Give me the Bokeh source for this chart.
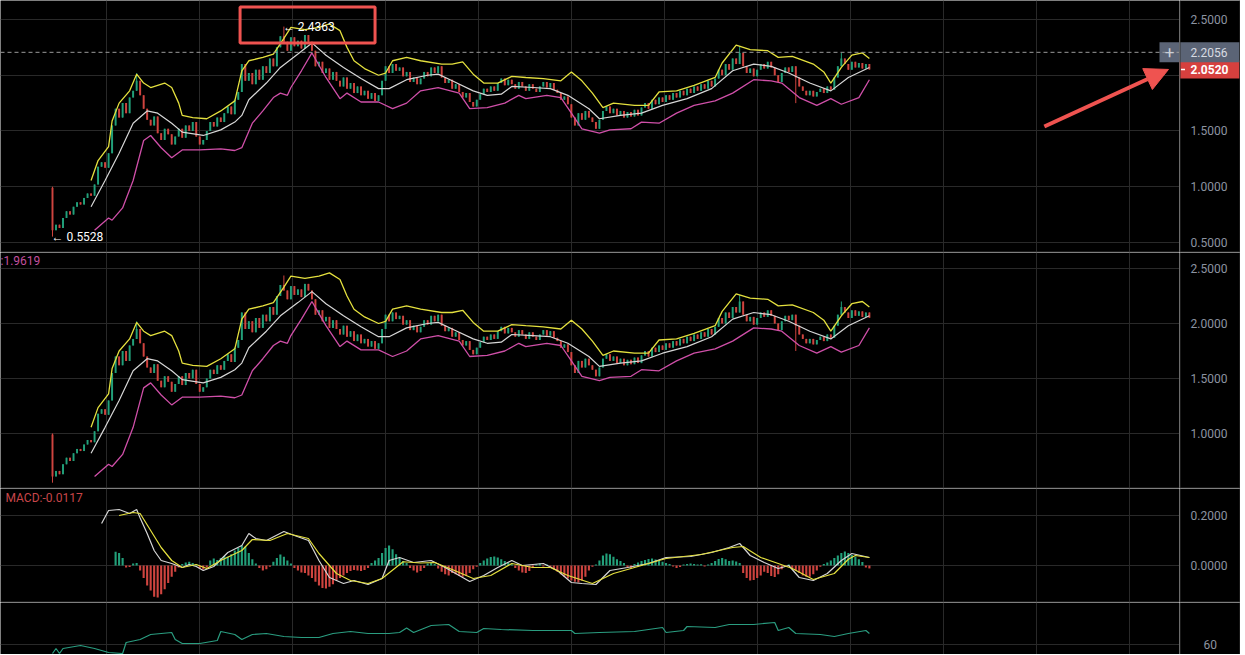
from bokeh.plotting import figure
from bokeh.models import (Range1d, FixedTicker, Span, Label, BoxAnnotation, Arrow,
                          NormalHead, ColumnDataSource)
from bokeh.layouts import column, row
from bokeh.embed import file_html
from bokeh.resources import INLINE
from bokeh.core.properties import value

# ---------------- data ----------------
first_open = 0.99
closes = [
    0.61, 0.66, 0.63, 0.72, 0.78, 0.75, 0.82, 0.86, 0.84, 0.90,
    0.94, 0.92, 1.02, 1.18, 1.22, 1.17, 1.30, 1.55, 1.70, 1.62,
    1.75, 1.66, 1.80, 1.86, 1.95, 1.82, 1.70, 1.60, 1.55, 1.63,
    1.48, 1.42, 1.52, 1.47, 1.38, 1.45, 1.52, 1.44, 1.55, 1.50,
    1.58, 1.45, 1.38, 1.42, 1.50, 1.58, 1.54, 1.62, 1.58, 1.66,
    1.72, 1.65, 1.78, 1.85, 2.10, 1.95, 2.02, 1.92, 2.05, 1.96,
    2.08, 2.02, 2.15, 2.08, 2.25, 2.35, 2.30, 2.22, 2.34, 2.26,
    2.31, 2.24, 2.36, 2.30, 2.22, 2.08, 2.12, 2.02, 2.06, 1.96,
    2.03, 1.95, 1.90, 1.98, 1.88, 1.93, 1.84, 1.90, 1.82, 1.86,
    1.79, 1.84, 1.77, 1.82, 1.95, 2.08, 2.02, 2.10, 2.04, 2.07,
    1.99, 2.03, 1.94, 1.98, 1.92, 1.97, 2.03, 1.99, 2.07, 2.02,
    2.08, 1.98, 1.93, 1.96, 1.88, 1.92, 1.85, 1.80, 1.84, 1.76,
    1.72, 1.78, 1.83, 1.88, 1.85, 1.90, 1.86, 1.93, 1.97, 1.91,
    1.96, 1.92, 1.88, 1.94, 1.90, 1.86, 1.92, 1.88, 1.85, 1.90,
    1.94, 1.89, 1.93, 1.87, 1.84, 1.78, 1.81, 1.74, 1.62, 1.55,
    1.66, 1.60, 1.68, 1.62, 1.58, 1.52, 1.60, 1.68, 1.72, 1.66,
    1.70, 1.64, 1.68, 1.62, 1.67, 1.63, 1.69, 1.64, 1.71, 1.75,
    1.70, 1.78, 1.74, 1.80, 1.76, 1.82, 1.78, 1.84, 1.80, 1.86,
    1.82, 1.88, 1.84, 1.90, 1.86, 1.92, 1.88, 1.95, 1.90, 1.97,
    2.05, 2.00, 2.10, 2.05, 2.15, 2.10, 2.20, 2.08, 2.02, 2.06,
    1.99, 2.05, 2.10, 2.06, 2.12, 2.07, 2.00, 1.94, 2.02, 2.07,
    2.03, 2.08, 1.98, 1.90, 1.86, 1.82, 1.86, 1.81, 1.85, 1.88,
    1.84, 1.90, 1.87, 1.98, 2.08, 2.15, 2.10, 2.05, 2.12, 2.07,
    2.11, 2.06, 2.10, 2.052,
]
high_marks = {0: 1.00, 24: 2.02, 66: 2.4363, 196: 2.26, 225: 2.20}
low_marks = {0: 0.5528, 212: 1.75}

# Bollinger bands (upper / middle / lower), sampled at candle indices
ub_idx = [11, 13, 16, 17, 19, 22, 24, 26, 28, 32, 34, 36, 37, 40, 44, 48, 52, 54, 56, 60,
          63, 66, 68, 72, 76, 79, 82, 84, 86, 89, 93, 95, 97, 101, 105, 111, 114, 117, 120, 123,
          127, 131, 135, 140, 145, 148, 151, 154, 157, 160, 166, 170, 173, 178, 183, 189, 191, 195, 199, 204,
          207, 211, 217, 220, 222, 225, 228, 231, 233]
ub_val = [1.056, 1.235, 1.36, 1.59, 1.75, 1.86, 2.01, 1.93, 1.89, 1.93, 1.89, 1.75, 1.64, 1.62, 1.61, 1.68, 1.77, 2.04, 2.13, 2.16,
          2.19, 2.33, 2.43, 2.41, 2.43, 2.46, 2.40, 2.25, 2.13, 2.06, 2.00, 2.02, 2.13, 2.16, 2.13, 2.10, 2.10, 2.12, 2.01, 1.93,
          1.93, 1.99, 1.98, 1.97, 1.95, 2.03, 1.95, 1.84, 1.71, 1.75, 1.73, 1.73, 1.85, 1.86, 1.91, 1.98, 2.11, 2.27, 2.23, 2.22,
          2.16, 2.17, 2.10, 2.03, 1.93, 2.07, 2.18, 2.20, 2.15]
mb_idx = [11, 15, 19, 23, 27, 30, 34, 37, 43, 48, 52, 54, 56, 61, 65, 70, 74, 78, 83, 88,
          93, 96, 101, 107, 110, 114, 120, 124, 128, 131, 137, 142, 147, 153, 156, 162, 168, 174, 181, 188,
          194, 200, 205, 210, 216, 222, 227, 233]
mb_val = [0.82, 1.056, 1.30, 1.57, 1.68, 1.66, 1.57, 1.49, 1.46, 1.51, 1.58, 1.64, 1.78, 1.93, 2.07, 2.19, 2.29, 2.18, 2.07, 1.97,
          1.88, 1.88, 1.96, 2.00, 2.01, 1.95, 1.86, 1.82, 1.83, 1.90, 1.89, 1.88, 1.82, 1.70, 1.61, 1.64, 1.66, 1.73, 1.79, 1.88,
          2.04, 2.10, 2.08, 2.02, 1.93, 1.86, 1.98, 2.07]
lb_idx = [12, 16, 17, 20, 23, 26, 28, 31, 34, 37, 42, 48, 52, 54, 57, 60, 63, 65, 67, 68,
          71, 74, 76, 78, 82, 84, 88, 93, 97, 101, 105, 110, 116, 119, 124, 129, 133, 135, 141, 145,
          148, 151, 156, 159, 165, 168, 173, 178, 183, 189, 194, 200, 205, 208, 213, 218, 222, 225, 230, 233]
lb_val = [0.61, 0.72, 0.70, 0.81, 1.056, 1.415, 1.46, 1.35, 1.26, 1.33, 1.33, 1.34, 1.325, 1.35, 1.57, 1.68, 1.80, 1.84, 1.82, 1.89,
          2.04, 2.20, 2.09, 1.98, 1.79, 1.84, 1.76, 1.76, 1.70, 1.75, 1.86, 1.89, 1.84, 1.70, 1.71, 1.75, 1.82, 1.79, 1.82, 1.80,
          1.66, 1.52, 1.48, 1.51, 1.52, 1.58, 1.57, 1.66, 1.73, 1.77, 1.84, 1.96, 1.95, 1.93, 1.80, 1.73, 1.79, 1.74, 1.80, 1.96]

# MACD histogram from candle 18 onwards
hist_start = 18
hist = [
    0.055, 0.05, 0.03, -0.008, -0.006, 0.008, 0.01, -0.02, -0.05, -0.08,
    -0.10, -0.125, -0.128, -0.115, -0.095, -0.07, -0.045, -0.025, -0.008, 0.006,
    0.012, 0.015, 0.01, 0.005, -0.012, -0.016, -0.008, 0.02, 0.028, 0.022,
    0.03, 0.038, 0.035, 0.045, 0.06, 0.07, 0.08, 0.075, 0.05, 0.025,
    0.008, -0.01, -0.02, -0.015, -0.005, 0.015, 0.03, 0.044, 0.035, 0.02,
    0.008, -0.01, -0.02, -0.028, -0.03, -0.04, -0.05, -0.065, -0.08, -0.09,
    -0.092, -0.085, -0.075, -0.06, -0.05, -0.04, -0.03, -0.022, -0.018, -0.02,
    -0.022, -0.018, -0.01, 0.01, 0.02, 0.03, 0.05, 0.07, 0.08, 0.065,
    0.045, 0.03, 0.018, 0.01, -0.01, -0.02, -0.028, -0.022, -0.01, 0.008,
    0.01, 0.006, -0.012, -0.025, -0.035, -0.04, -0.03, -0.035, -0.042, -0.045,
    -0.04, -0.03, -0.015, -0.005, 0.01, 0.02, 0.028, 0.034, 0.036, 0.032,
    0.025, 0.018, 0.012, 0.005, -0.01, -0.02, -0.028, -0.03, -0.022, -0.01,
    0.005, 0.008, -0.004, 0.004, -0.008, -0.015, -0.025, -0.035, -0.045, -0.052,
    -0.06, -0.065, -0.068, -0.06, -0.045, -0.02, -0.005, 0.004, 0.02, 0.04,
    0.048, 0.045, 0.035, 0.025, 0.018, 0.01, -0.006, -0.01, 0.006, 0.012,
    0.018, 0.022, 0.026, 0.028, 0.024, 0.02, 0.015, 0.01, 0.006, -0.004,
    -0.01, -0.006, 0.004, 0.006, 0.008, 0.006, 0.004, 0.005, -0.004, 0.004,
    0.01, 0.018, 0.026, 0.03, 0.025, 0.018, 0.02, 0.016, 0.01, -0.03,
    -0.05, -0.06, -0.058, -0.05, -0.04, -0.025, -0.03, -0.042, -0.046, -0.035,
    -0.015, -0.005, 0.004, -0.01, -0.02, -0.03, -0.04, -0.045, -0.045, -0.035,
    -0.02, -0.005, 0.006, 0.012, 0.02, 0.03, 0.04, 0.05, 0.056, 0.05,
    0.042, 0.035, 0.025, 0.014, -0.008, -0.0117,
]
dif_idx = [14, 16, 19, 22, 24, 25, 27, 29, 31, 34, 37, 39, 41, 43, 46, 50, 54, 56, 58, 61,
           66, 69, 73, 76, 79, 83, 86, 90, 94, 96, 99, 103, 108, 112, 116, 119, 123, 127, 131, 134,
           140, 144, 148, 151, 155, 159, 164, 170, 175, 182, 188, 193, 196, 199, 203, 207, 210, 213, 217, 221,
           225, 228, 233]
dif_val = [0.168, 0.22, 0.224, 0.208, 0.224, 0.19, 0.128, 0.06, 0.02, 0.008, -0.008, 0.004, -0.004, -0.02, -0.004, 0.052, 0.08, 0.128, 0.108, 0.10,
           0.136, 0.12, 0.10, 0.02, -0.048, -0.072, -0.06, -0.076, -0.052, 0.02, 0.032, 0.012, 0.02, -0.008, -0.04, -0.064, -0.04, -0.008, 0.02, 0.0,
           0.008, -0.02, -0.068, -0.072, -0.076, -0.02, -0.008, 0.008, 0.032, 0.036, 0.052, 0.072, 0.088, 0.04, 0.012, -0.012, 0.0, -0.048, -0.06, -0.032,
           0.02, 0.048, 0.032]
dea_idx = [19, 23, 25, 28, 31, 34, 37, 41, 44, 48, 54, 57, 62, 67, 73, 76, 81, 85, 90, 94,
           100, 105, 109, 114, 120, 125, 131, 137, 142, 147, 154, 160, 168, 175, 185, 194, 197, 202, 207, 211,
           217, 223, 227, 229, 233]
dea_val = [0.2, 0.212, 0.208, 0.14, 0.072, 0.02, -0.008, 0.004, -0.012, 0.02, 0.06, 0.104, 0.1, 0.128, 0.108, 0.048, -0.032, -0.06, -0.072, -0.052,
           0.015, 0.01, 0.012, -0.016, -0.052, -0.04, 0.008, -0.008, -0.008, -0.04, -0.072, -0.032, 0.0, 0.028, 0.044, 0.072, 0.076, 0.032, 0.008, -0.012,
           -0.056, -0.032, 0.025, 0.04, 0.032]
rsi_idx = [0, 1, 2, 3, 8, 12, 16, 20, 21, 25, 28, 34, 35, 37, 42, 47, 48, 52, 54, 57,
           61, 66, 71, 76, 80, 85, 90, 96, 99, 101, 103, 108, 113, 116, 121, 123, 128, 137, 148, 149,
           156, 166, 174, 175, 180, 181, 189, 193, 200, 206, 207, 210, 212, 219, 223, 227, 232, 233]
rsi_val = [56.4, 58.4, 56.4, 58.4, 59.6, 58.4, 56.8, 56.4, 60.8, 62, 64, 64.8, 62, 60.4, 60.4, 61.6, 65.2, 64, 62, 64,
           64.4, 63.2, 62.8, 62.8, 64.4, 65.2, 64.4, 64.4, 64.8, 66.6, 64.8, 67.6, 68, 65.2, 64.8, 66.4, 66, 65.6, 65.6, 64.4,
           64.8, 65.2, 66.8, 64.8, 65.6, 67.2, 66.8, 68, 68, 68.8, 65.6, 66.8, 64.4, 64, 63.2, 64.4, 65.6, 64.4]

price_ticks_top = [2.5, 1.5, 1.0, 0.5]
price_ticks_mid = [2.5, 2.0, 1.5, 1.0]
macd_ticks = [0.2, 0.0]
rsi_ticks = [60]
last_mark = 2.2056
last_close = 2.0520
macd_text = "MACD:-0.0117"
lb_text = ":1.9619"

# ---------------- styles / layout ----------------
BG = "#000000"
GRID = "#292929"
AXLINE = "#333333"
TICKC = "#8c93a0"
GREEN = "#22a07a"
RED = "#cf443f"
YELLOW = "#e4e03e"
WHITE = "#d6d6d6"
MAGENTA = "#cf4fa8"
ANN = "#ef5350"
FONT = "Roboto"

MAIN_W = 1179
STRIP_W = 61
xr = Range1d(-14.83, 321.45)
PX = MAIN_W / (xr.end - xr.start)
xgrid_ticks = [15.4 + 26.52 * k for k in range(12)]

N = len(closes)
idx = list(range(N))
opens = [first_open] + closes[:-1]
highs = [max(o, c) for o, c in zip(opens, closes)]
lows = [min(o, c) for o, c in zip(opens, closes)]
for k, v in high_marks.items():
    highs[k] = v
for k, v in low_marks.items():
    lows[k] = v
colors = [GREEN if c >= o else RED for o, c in zip(opens, closes)]
src = ColumnDataSource(dict(x=idx, h=highs, l=lows,
                            top=[max(o, c) for o, c in zip(opens, closes)],
                            bot=[min(o, c) for o, c in zip(opens, closes)],
                            color=colors))


def base(width, height, x_range, y_range):
    p = figure(width=width, height=height, x_range=x_range, y_range=y_range,
               output_backend="svg", toolbar_location=None, x_axis_location=None,
               y_axis_location=None, min_border=0,
               background_fill_color=BG, border_fill_color=BG, outline_line_color=None)
    p.title.visible = False
    return p


def panel(height, y0, y1, grid_ticks, label_ticks, fmt, label_x, sep):
    yr = Range1d(y0, y1)
    m = base(MAIN_W, height, xr, yr)
    m.xgrid.ticker = FixedTicker(ticks=xgrid_ticks)
    m.ygrid.ticker = FixedTicker(ticks=grid_ticks)
    m.xgrid.grid_line_color = GRID
    m.ygrid.grid_line_color = GRID
    s = base(STRIP_W, height, Range1d(0, STRIP_W), yr)
    s.xgrid.visible = False
    s.ygrid.visible = False
    s.add_layout(Span(location=0.5, dimension="height", line_color=AXLINE, line_width=1))
    s.add_layout(Span(location=STRIP_W - 0.5, dimension="height", line_color=AXLINE, line_width=1))
    s.text(x=[label_x] * len(label_ticks), y=label_ticks,
           text=[fmt % t for t in label_ticks], text_color=TICKC,
           text_font=value(FONT), text_font_size="12px",
           text_align="left", text_baseline="middle")
    if sep is not None:
        for f in (m, s):
            f.add_layout(Span(location=sep, dimension="width", line_color=AXLINE, line_width=1))
    return m, s


m1, s1 = panel(252, 0.41031, 2.67040, [0.5, 1.0, 1.5, 2.0, 2.5], price_ticks_top, "%.4f", 11, 0.4148)
m2, s2 = panel(236, 0.5, 2.64545, [1.0, 1.5, 2.0, 2.5], price_ticks_mid, "%.4f", 11, 0.5045)
m3, s3 = panel(114, -0.148, 0.308, [0.0, 0.2], macd_ticks, "%.4f", 11, -0.146)
m4, s4 = panel(52, 56.0, 76.8, [60], rsi_ticks, "%d", 24, None)

for p in (m1, m2):
    p.segment(x0="x", y0="l", x1="x", y1="h", line_color="color", line_width=1, source=src)
    p.vbar(x="x", width=0.55, top="top", bottom="bot", fill_color="color",
           line_color=None, source=src)
    p.line(ub_idx, ub_val, line_color=YELLOW, line_width=1.3)
    p.line(mb_idx, mb_val, line_color=WHITE, line_width=1.2)
    p.line(lb_idx, lb_val, line_color=MAGENTA, line_width=1.3)

# last-price dashed line and extreme labels
m1.add_layout(Span(location=last_mark, dimension="width", line_color="#9a9a9a",
                   line_dash="4 3", line_width=1))
m1.add_layout(Label(x=66, y=high_marks[66], x_offset=-1, text="\u2190 2.4363",
                    text_color="#ffffff", text_font=FONT, text_font_size="12px",
                    text_baseline="middle"))
m1.add_layout(Label(x=0, y=low_marks[0], x_offset=-1, text="\u2190 0.5528",
                    text_color="#ffffff", text_font=FONT, text_font_size="12px",
                    text_baseline="middle"))

# red highlight box and red arrow
m1.add_layout(BoxAnnotation(left=53.5, right=92.0, bottom=2.289, top=2.612,
                            fill_color=None, fill_alpha=0, line_color=ANN,
                            line_alpha=1.0, line_width=3))
m1.add_layout(Arrow(end=NormalHead(size=23, fill_color=ANN, line_color=ANN),
                    line_color=ANN, line_width=4,
                    x_start=282.9, y_start=1.540, x_end=318.3, y_end=2.052))

# "+" handle at the end of the dashed line
plus_x = xr.end - 10 / PX
m1.rect(x=[plus_x], y=[last_mark], width=[20], height=[20], width_units="screen",
        height_units="screen", fill_color="#5b6476", line_color=None)
m1.add_layout(Label(x=plus_x, y=last_mark, text="+", text_align="center",
                    text_baseline="middle", text_color="#c9ced6", text_font=FONT,
                    text_font_size="17px"))

# price tags in the axis strip
s1.rect(x=[STRIP_W / 2 - 0.5], y=[last_close], width=[60], height=[18], width_units="screen",
        height_units="screen", fill_color="#d6403e", line_color=None)
s1.rect(x=[STRIP_W / 2 - 0.5], y=[last_mark], width=[60], height=[20], width_units="screen",
        height_units="screen", fill_color="#5b6476", line_color=None)
s1.segment(x0=[1.5], x1=[5.5], y0=[last_close], y1=[last_close], line_color="#ffffff", line_width=1.5)
s1.text(x=[11], y=[last_mark], text=["2.2056"], text_color="#d8dbe2",
        text_font=value(FONT), text_font_size="12px", text_align="left", text_baseline="middle")
s1.text(x=[11], y=[last_close], text=["2.0520"], text_color="#ffffff",
        text_font=value(FONT), text_font_size="12px", text_font_style="bold",
        text_align="left", text_baseline="middle")

m2.add_layout(Label(x=0, y=228, x_units="screen", y_units="screen", text=lb_text,
                    text_color="#c24f9e", text_font=FONT, text_font_size="12px",
                    text_baseline="middle"))

# MACD panel
hist_idx = list(range(hist_start, hist_start + len(hist)))
hist_colors = [GREEN if v >= 0 else RED for v in hist]
m3.vbar(x=hist_idx, width=0.6, top=hist, bottom=0, fill_color=hist_colors, line_color=None)
m3.line(dif_idx, dif_val, line_color=WHITE, line_width=1.2)
m3.line(dea_idx, dea_val, line_color=YELLOW, line_width=1.2)
m3.add_layout(Label(x=5, y=105, x_units="screen", y_units="screen", text=macd_text,
                    text_color="#c8464a", text_font=FONT, text_font_size="12px",
                    text_baseline="middle"))

# lower indicator panel
m4.line(rsi_idx, rsi_val, line_color="#2a9d80", line_width=1.2)

layout = column(row(m1, s1), row(m2, s2), row(m3, s3), row(m4, s4))
open("out.html", "w").write(file_html(layout, INLINE))
